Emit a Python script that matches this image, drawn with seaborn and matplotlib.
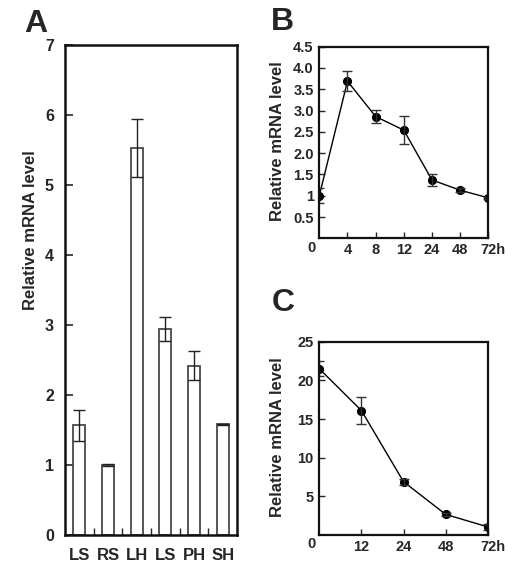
import numpy as np
import pandas as pd
import matplotlib
matplotlib.use("Agg")
import matplotlib.pyplot as plt
import seaborn as sns
from matplotlib.transforms import ScaledTranslation

# ---- data ----
tissues = ["LS", "RS", "LH", "LS", "PH", "SH"]
tissue_mean = [1.57, 1.00, 5.53, 2.94, 2.42, 1.58]
tissue_err = [0.22, 0.01, 0.41, 0.17, 0.21, 0.01]

b_time = ["0", "4", "8", "12", "24", "48", "72h"]
b_mean = [1.00, 3.69, 2.86, 2.54, 1.37, 1.13, 0.95]
b_err = [0.18, 0.24, 0.15, 0.33, 0.15, 0.05, 0.03]
b_yticks = [0.5, 1, 1.5, 2.0, 2.5, 3.0, 3.5, 4.0, 4.5]
b_yticklabels = ["0.5", "1", "1.5", "2.0", "2.5", "3.0", "3.5", "4.0", "4.5"]

c_time = ["0", "12", "24", "48", "72h"]
c_mean = [21.5, 16.1, 6.9, 2.67, 1.05]
c_err = [0.95, 1.75, 0.40, 0.15, 0.40]
c_yticks = [5, 10, 15, 20, 25]

sns.set_style("ticks")
plt.rcParams["font.family"] = ["Liberation Sans", "DejaVu Sans"]
plt.rcParams["font.weight"] = "bold"

W, H = 525, 569
fig = plt.figure(figsize=(W / 100, H / 100), dpi=100)
fig.patch.set_facecolor("white")


def px_axes(l, t, r, b):
    return fig.add_axes([l / W, 1 - b / H, (r - l) / W, (b - t) / H])


def style_axes(ax, lw=1.6):
    for s in ax.spines.values():
        s.set_visible(True)
        s.set_linewidth(lw)
        s.set_color("#111111")
    ax.set_facecolor("white")


# ---- Panel A ----
axA = px_axes(65, 45, 237, 535)
xa = np.arange(len(tissues))
dfA = pd.DataFrame({"pos": xa, "val": tissue_mean})
sns.barplot(data=dfA, x="pos", y="val", ax=axA, color="white", edgecolor="#4a4a4a",
            linewidth=1.3, width=0.42, errorbar=None)
axA.errorbar(xa, tissue_mean, yerr=tissue_err, fmt="none", ecolor="#222222",
             elinewidth=1.0, capsize=4, capthick=1.0)
axA.set_xlim(-0.5, len(tissues) - 0.5)
axA.set_ylim(0, 7)
axA.set_yticks(range(0, 8))
axA.set_xticks(xa)
axA.set_xticklabels(tissues, fontsize=12, fontweight="bold")
axA.set_xticks(np.arange(0.5, len(tissues) - 1, 1.0), minor=True)
axA.tick_params(axis="x", which="major", length=0, pad=9)
axA.tick_params(axis="x", which="minor", direction="in", length=5, width=1.0)
axA.tick_params(axis="y", direction="in", length=6, width=1.2, labelsize=11.5, pad=8)
for lab in axA.get_yticklabels():
    lab.set_fontweight("bold")
axA.set_xlabel("")
axA.set_ylabel("")
style_axes(axA, 1.8)
fig.text(31 / W, 1 - 230 / H, "Relative mRNA level", rotation=90, ha="center",
         va="center", fontsize=12, fontweight="bold")
fig.text(36 / W, 1 - 24 / H, "A", ha="center", va="center", fontsize=23, fontweight="bold")

# ---- Panel B ----
axB = px_axes(319.3, 46.7, 488.3, 238.3)
xb = np.arange(len(b_time))
sns.lineplot(x=xb, y=b_mean, ax=axB, color="black", linewidth=1.0, marker="o",
             markersize=5.8, markeredgecolor="black")
axB.errorbar(xb, b_mean, yerr=b_err, fmt="none", ecolor="#333333", elinewidth=1.0,
             capsize=3.5, capthick=1.0)
axB.set_xlim(0, len(b_time) - 1)
axB.set_ylim(0, 4.5)
axB.set_yticks(b_yticks)
axB.set_yticklabels(b_yticklabels, fontsize=10.5, fontweight="bold")
axB.set_xticks(xb[1:])
axB.set_xticklabels(b_time[1:], fontsize=10.5, fontweight="bold")
axB.tick_params(axis="both", direction="in", length=4, width=1.0)
axB.tick_params(axis="y", pad=4)
axB.tick_params(axis="x", pad=3.5)
axB.get_xticklabels()[-1].set_transform(
    axB.get_xticklabels()[-1].get_transform() + ScaledTranslation(5 / 100, 0, fig.dpi_scale_trans))
axB.annotate("0", xy=(0, 0), xycoords="axes fraction", xytext=(-7.6, -10),
             textcoords="offset pixels", ha="center", va="center", fontsize=10.5,
             fontweight="bold")
style_axes(axB, 1.6)
fig.text(278 / W, 1 - 141 / H, "Relative mRNA level", rotation=90, ha="center",
         va="center", fontsize=12, fontweight="bold")
fig.text(282 / W, 1 - 22.5 / H, "B", ha="center", va="center", fontsize=23, fontweight="bold")

# ---- Panel C ----
axC = px_axes(319.3, 341.7, 487.7, 535)
xc = np.arange(len(c_time))
sns.lineplot(x=xc, y=c_mean, ax=axC, color="black", linewidth=1.0, marker="o",
             markersize=5.8, markeredgecolor="black")
axC.errorbar(xc, c_mean, yerr=c_err, fmt="none", ecolor="#333333", elinewidth=1.0,
             capsize=3.5, capthick=1.0)
axC.set_xlim(0, len(c_time) - 1)
axC.set_ylim(0, 25)
axC.set_yticks(c_yticks)
axC.set_yticklabels([str(v) for v in c_yticks], fontsize=10.5, fontweight="bold")
axC.set_xticks(xc[1:])
axC.set_xticklabels(c_time[1:], fontsize=10.5, fontweight="bold")
axC.tick_params(axis="both", direction="in", length=4, width=1.0)
axC.tick_params(axis="y", pad=4)
axC.tick_params(axis="x", pad=3.5)
axC.get_xticklabels()[-1].set_transform(
    axC.get_xticklabels()[-1].get_transform() + ScaledTranslation(5 / 100, 0, fig.dpi_scale_trans))
axC.annotate("0", xy=(0, 0), xycoords="axes fraction", xytext=(-7.6, -9),
             textcoords="offset pixels", ha="center", va="center", fontsize=10.5,
             fontweight="bold")
style_axes(axC, 1.6)
fig.text(278 / W, 1 - 437 / H, "Relative mRNA level", rotation=90, ha="center",
         va="center", fontsize=12, fontweight="bold")
fig.text(283 / W, 1 - 303 / H, "C", ha="center", va="center", fontsize=23, fontweight="bold")

fig.savefig("out.png", dpi=100, facecolor="white")
